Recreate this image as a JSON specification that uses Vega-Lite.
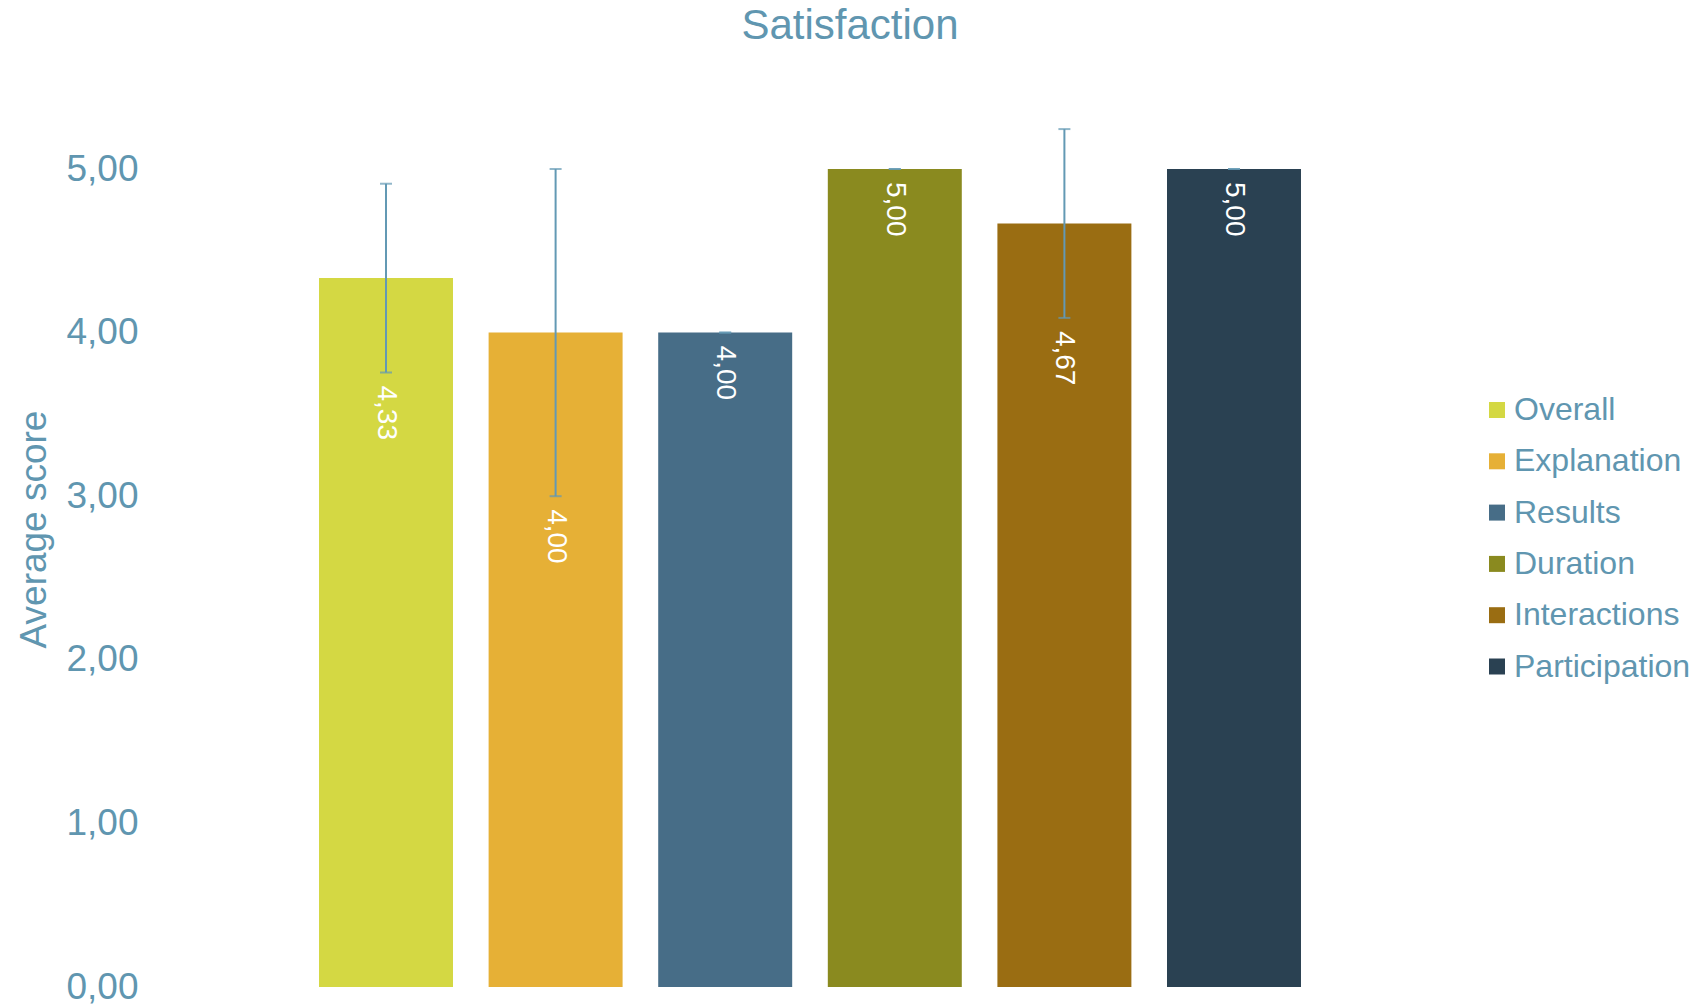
{
  "$schema": "https://vega.github.io/schema/vega-lite/v6.json",
  "autosize": {"type": "none"},
  "width": 1300,
  "height": 818,
  "padding": {"left": 160, "top": 169, "right": 241, "bottom": 20},
  "background": "white",
  "title": {
    "text": "Satisfaction",
    "font": "Liberation Sans",
    "fontSize": 42,
    "fontWeight": "normal",
    "color": "#6096b0",
    "anchor": "middle",
    "baseline": "alphabetic",
    "dx": 40,
    "offset": 47
  },
  "config": {
    "locale": {"number": {"decimal": ",", "thousands": ".", "grouping": [3], "currency": ["", " €"]}},
    "view": {"stroke": null},
    "font": "Liberation Sans"
  },
  "data": {
    "values": [
      {"category": "Overall", "mean": 4.333, "lower": 3.756, "upper": 4.91},
      {"category": "Explanation", "mean": 4.0, "lower": 3.0, "upper": 5.0},
      {"category": "Results", "mean": 4.0, "lower": 4.0, "upper": 4.0},
      {"category": "Duration", "mean": 5.0, "lower": 5.0, "upper": 5.0},
      {"category": "Interactions", "mean": 4.667, "lower": 4.09, "upper": 5.244},
      {"category": "Participation", "mean": 5.0, "lower": 5.0, "upper": 5.0}
    ]
  },
  "encoding": {
    "x": {
      "field": "category",
      "type": "nominal",
      "sort": null,
      "axis": null,
      "scale": {"paddingInner": 0.21, "paddingOuter": 0.9376}
    }
  },
  "layer": [
    {
      "mark": {"type": "bar"},
      "encoding": {
        "y": {
          "field": "mean",
          "type": "quantitative",
          "scale": {"domain": [0, 5], "nice": false, "zero": true},
          "axis": {
            "title": "Average score",
            "format": ".2f",
            "values": [0, 1, 2, 3, 4, 5],
            "grid": false,
            "domain": false,
            "ticks": false,
            "labelFont": "Liberation Sans",
            "labelFontSize": 37,
            "labelColor": "#6096b0",
            "labelPadding": 22,
            "labelBaseline": "middle",
            "titleFont": "Liberation Sans",
            "titleFontSize": 37,
            "titleFontWeight": "normal",
            "titleColor": "#6096b0",
            "titleAngle": -90,
            "titleAlign": "center",
            "titleBaseline": "alphabetic",
            "titleX": -115,
            "titleY": 360
          }
        },
        "color": {
          "field": "category",
          "type": "nominal",
          "scale": {
            "domain": ["Overall", "Explanation", "Results", "Duration", "Interactions", "Participation"],
            "range": ["#d4d843", "#e6b036", "#476d87", "#8a8a1f", "#9a6d12", "#2a4152"]
          },
          "legend": {
            "title": null,
            "orient": "none",
            "legendX": 1321,
            "legendY": 225,
            "symbolType": "square",
            "symbolSize": 256,
            "symbolStrokeWidth": 0,
            "labelFont": "Liberation Sans",
            "labelFontSize": 32,
            "labelColor": "#6096b0",
            "labelOffset": 1,
            "rowPadding": 19.3,
            "padding": 0,
            "labelLimit": 400
          }
        }
      }
    },
    {
      "mark": {"type": "rule", "color": "#6399b4", "strokeWidth": 2},
      "encoding": {
        "y": {"field": "lower", "type": "quantitative"},
        "y2": {"field": "upper"}
      }
    },
    {
      "mark": {"type": "tick", "color": "#6399b4", "thickness": 2, "size": 12, "orient": "horizontal"},
      "encoding": {"y": {"field": "upper", "type": "quantitative"}}
    },
    {
      "mark": {"type": "tick", "color": "#6399b4", "thickness": 2, "size": 12, "orient": "horizontal"},
      "encoding": {"y": {"field": "lower", "type": "quantitative"}}
    },
    {
      "mark": {
        "type": "text",
        "angle": 90,
        "align": "left",
        "baseline": "middle",
        "dx": 13,
        "color": "white",
        "font": "Liberation Sans",
        "fontSize": 28
      },
      "encoding": {
        "y": {"field": "lower", "type": "quantitative"},
        "text": {"field": "mean", "type": "quantitative", "format": ".2f"}
      }
    }
  ]
}
